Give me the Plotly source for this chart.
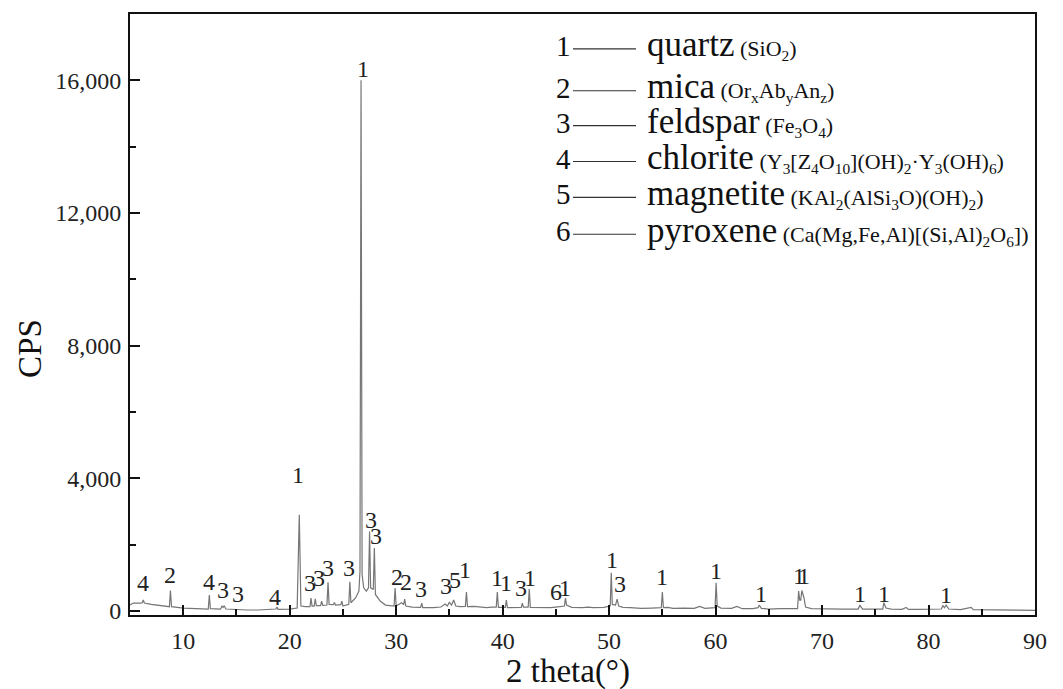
import plotly.graph_objects as go

# XRD pattern (2θ in degrees, intensity in CPS)
two_theta = [5.0, 5.3, 6.0, 6.15, 6.25, 6.35, 7.0, 8.0, 8.7, 8.8, 8.9, 10.0, 11.0, 12.35, 12.45, 12.55,
             13.5, 13.65, 13.75, 13.85, 14.0, 15.0, 16.0, 17.0, 18.0, 18.7, 18.8, 18.9, 20.0, 20.7,
             20.9, 21.05, 21.5, 21.9, 22.0, 22.1, 22.3, 22.4, 22.5, 22.9, 23.0, 23.1, 23.5, 23.6,
             23.7, 24.1, 24.2, 24.3, 24.8, 24.9, 25.0, 25.55, 25.65, 25.75, 26.2, 26.5, 26.6, 26.7,
             26.8, 26.95, 27.2, 27.4, 27.5, 27.6, 27.85, 27.95, 28.05, 28.5, 29.0, 29.8, 29.9, 30.0,
             30.5, 30.7, 30.8, 30.9, 31.5, 32.0, 32.3, 32.4, 32.5, 33.5, 34.2, 34.6, 34.8, 35.0,
             35.2, 35.4, 35.6, 36.0, 36.5, 36.6, 36.7, 37.3, 38.0, 38.5, 39.0, 39.4, 39.5, 39.6,
             40.25, 40.35, 40.45, 41.5, 41.75, 41.85, 41.95, 42.4, 42.5, 42.6, 43.5, 44.5, 45.0,
             45.8, 45.9, 46.0, 46.5, 47.5, 48.0, 48.5, 49.5, 50.1, 50.2, 50.3, 50.6, 50.75, 50.9,
             51.3, 52.0, 53.0, 54.0, 54.9, 55.0, 55.1, 55.5, 56.0, 57.0, 58.0, 58.5, 59.0, 59.95,
             60.05, 60.15, 60.5, 61.5, 62.0, 62.5, 63.5, 64.0, 64.1, 64.3, 65.0, 66.0, 67.0, 67.7,
             67.8, 67.9, 68.0, 68.1, 68.3, 68.45, 69.0, 70.0, 72.0, 73.4, 73.55, 73.8, 75.0, 75.7,
             75.8, 76.0, 76.5, 77.5, 77.9, 78.1, 79.0, 80.0, 81.2, 81.35, 81.5, 81.65, 81.9, 83.0,
             84.0, 84.2, 86.0, 87.0, 88.0, 90.0]
cps = [180, 240, 240, 250, 330, 240, 200, 150, 130, 620, 130, 90, 70, 60, 480, 70,
       60, 150, 110, 160, 60, 40, 30, 30, 40, 60, 120, 50, 60, 90,
       2900, 150, 130, 130, 390, 150, 150, 370, 160, 160, 300, 170, 180, 870,
       200, 190, 260, 180, 190, 300, 150, 200, 880, 250, 400, 600, 1200, 16000,
       1100, 700, 600, 700, 2400, 700, 650, 1900, 500, 300, 180, 150, 690, 150,
       250, 200, 360, 150, 120, 110, 110, 240, 100, 100, 120, 210, 150, 260,
       180, 330, 150, 130, 140, 570, 130, 140, 110, 100, 120, 120, 570, 110,
       110, 330, 100, 100, 110, 240, 120, 120, 660, 110, 100, 100, 120,
       150, 390, 180, 110, 100, 120, 100, 110, 150, 1150, 200, 180, 360, 150,
       110, 100, 80, 90, 100, 570, 100, 110, 80, 90, 80, 140, 80, 100,
       850, 150, 90, 80, 140, 70, 70, 100, 180, 80, 60, 70, 60, 70,
       600, 330, 330, 620, 400, 120, 70, 60, 60, 60, 180, 60, 50, 60,
       250, 90, 60, 50, 110, 50, 50, 50, 60, 160, 100, 180, 60, 40,
       110, 40, 30, 30, 20, 20]

# Phase labels above the peaks
peak_label_x = [6.25, 8.8, 12.45, 13.7, 15.1, 18.65, 20.8, 21.95, 22.75, 23.6, 25.6, 26.85,
                27.6, 28.15, 30.05, 30.9, 32.3, 34.65, 35.55, 36.5, 39.5, 40.3, 41.7, 42.55,
                45.0, 45.9, 50.25, 51.0, 54.95, 60.05, 64.3, 67.85, 68.3, 73.6, 75.85, 81.6]
peak_label_y = [840, 1080, 870, 630, 510, 420, 4100, 840, 990, 1290, 1290, 16330,
                2740, 2260, 1020, 870, 660, 750, 930, 1230, 990, 840, 690, 990,
                570, 690, 1530, 810, 1020, 1200, 510, 1050, 1050, 510, 510, 480]
peak_label_text = ["4", "2", "4", "3", "3", "4", "1", "3", "3", "3", "3", "1",
                   "3", "3", "2", "2", "3", "3", "5", "1", "1", "1", "3", "1",
                   "6", "1", "1", "3", "1", "1", "1", "1", "1", "1", "1", "1"]

# Legend of phases
phase_numbers = ["1", "2", "3", "4", "5", "6"]
phase_names = ["quartz", "mica", "feldspar", "chlorite", "magnetite", "pyroxene"]
phase_formulas = ["(SiO<sub>2</sub>)", "(Or<sub>x</sub>Ab<sub>y</sub>An<sub>z</sub>)",
                  "(Fe<sub>3</sub>O<sub>4</sub>)",
                  "(Y<sub>3</sub>[Z<sub>4</sub>O<sub>10</sub>](OH)<sub>2</sub>·Y<sub>3</sub>(OH)<sub>6</sub>)",
                  "(KAl<sub>2</sub>(AlSi<sub>3</sub>O)(OH)<sub>2</sub>)",
                  "(Ca(Mg,Fe,Al)[(Si,Al)<sub>2</sub>O<sub>6</sub>])"]

x_ticks = [10, 20, 30, 40, 50, 60, 70, 80, 90]
y_ticks = [0, 4000, 8000, 12000, 16000]

FONT = "Liberation Serif"
L, R, T, B = 130, 28, 12, 74
W, H = 1063, 689
PW, PH = W - L - R, H - T - B


def px(x):
    return (x - L) / PW


def py(y):
    return (H - B - y) / PH


fig = go.Figure()
fig.add_trace(go.Scatter(x=two_theta, y=cps, mode="lines",
                         line=dict(color="#767676", width=1.2), hoverinfo="skip"))

annotations = []
for xv, yv, t in zip(peak_label_x, peak_label_y, peak_label_text):
    annotations.append(dict(x=xv, y=yv, xref="x", yref="y", text=t, showarrow=False,
                            font=dict(family=FONT, size=24, color="#222"),
                            xanchor="center", yanchor="middle"))

row_y = [44, 86, 121, 157, 193, 230]
shapes = []
for ry, num, name, formula in zip(row_y, phase_numbers, phase_names, phase_formulas):
    annotations.append(dict(x=px(573), y=py(ry), xref="paper", yref="paper", text=num,
                            showarrow=False, xanchor="right", yanchor="middle",
                            font=dict(family=FONT, size=29, color="#111")))
    shapes.append(dict(type="line", xref="paper", yref="paper",
                       x0=px(573), x1=px(636), y0=py(ry + 3), y1=py(ry + 3),
                       line=dict(color="#333", width=1.2)))
    annotations.append(dict(x=px(645), y=py(ry - 1), xref="paper", yref="paper",
                            text=name + "<span style='font-size:22px'> " + formula + "</span>",
                            showarrow=False, xanchor="left", yanchor="middle",
                            font=dict(family=FONT, size=35, color="#111")))

# axis titles
annotations.append(dict(x=px(568), y=py(672), xref="paper", yref="paper", text="2 theta(°)",
                        showarrow=False, xanchor="center", yanchor="middle",
                        font=dict(family=FONT, size=33, color="#111")))
annotations.append(dict(x=px(30), y=py(348), xref="paper", yref="paper", text="CPS",
                        showarrow=False, xanchor="center", yanchor="middle", textangle=-90,
                        font=dict(family=FONT, size=33, color="#111")))

fig.update_layout(
    width=W, height=H,
    margin=dict(l=L, r=R, t=T, b=B),
    paper_bgcolor="white", plot_bgcolor="white",
    showlegend=False,
    font=dict(family=FONT, color="#111"),
    annotations=annotations,
    shapes=shapes,
    xaxis=dict(range=[5, 90], tickvals=x_ticks, ticks="inside", ticklen=10, tickwidth=2,
               tickcolor="#111", showline=True, linecolor="#111", linewidth=2, mirror=True,
               showgrid=False, zeroline=False, ticklabelstandoff=3,
               tickfont=dict(family=FONT, size=24, color="#222"),
               minor=dict(dtick=5, tick0=5, ticks="inside", ticklen=6, tickwidth=2, tickcolor="#111")),
    yaxis=dict(range=[-120, 18000], tickvals=y_ticks, tickformat=",d", ticks="inside",
               ticklen=10, tickwidth=2, tickcolor="#111", showline=True, linecolor="#111",
               linewidth=2, mirror=True, showgrid=False, zeroline=False, ticklabelstandoff=2,
               tickfont=dict(family=FONT, size=24, color="#222"),
               minor=dict(dtick=2000, tick0=0, ticks="inside", ticklen=6, tickwidth=2, tickcolor="#111")),
)

fig.write_html("out.html")
